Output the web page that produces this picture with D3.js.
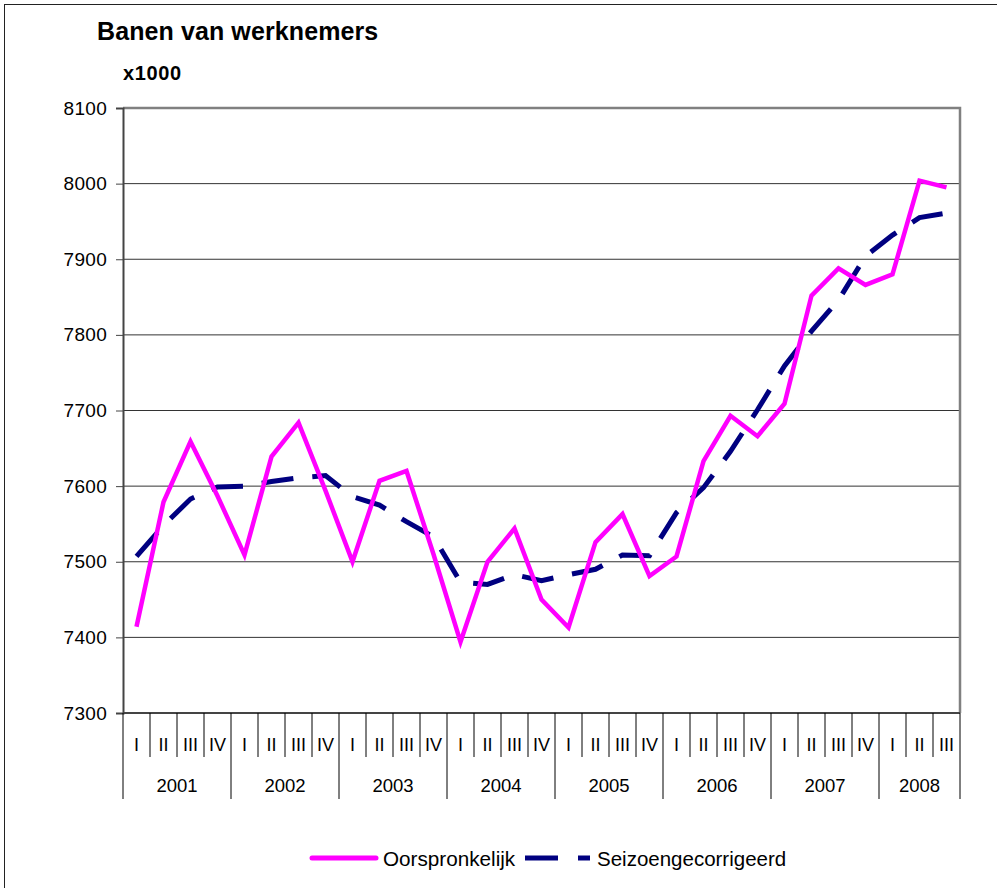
<!DOCTYPE html>
<html>
<head>
<meta charset="utf-8">
<script src="https://cdn.jsdelivr.net/npm/d3@7"></script>
<style>
  body { margin: 0; background: #fff; }
  svg { display: block; font-family: "Liberation Sans", Arial, sans-serif; }
</style>
</head>
<body>
<svg id="chart" width="997" height="888"></svg>
<script>
// data
const years = ['2001', '2002', '2003', '2004', '2005', '2006', '2007', '2008'];
const quarters = ['I', 'II', 'III', 'IV'];
const quarterCount = [4, 4, 4, 4, 4, 4, 4, 3];
const yTicks = [7300, 7400, 7500, 7600, 7700, 7800, 7900, 8000, 8100];

const oorspronkelijk = [
    7414, 7579, 7659, 7587,
    7509, 7639, 7684, 7594,
    7500, 7607, 7620, 7510,
    7394, 7500, 7544, 7450,
    7413, 7526, 7563, 7481,
    7507, 7633, 7693, 7666,
    7709, 7852, 7888, 7866,
    7880, 8004, 7995
];
const seizoen = [
    7507, 7548, 7583, 7599,
    7600, 7606, 7611, 7614,
    7586, 7575, 7553, 7533,
    7473, 7470, 7483, 7475,
    7483, 7490, 7509, 7508,
    7565, 7598, 7646, 7701,
    7759, 7805, 7846, 7904,
    7932, 7955, 7961
];

(function () {
// build category keys
const cats = [];
years.forEach((yr, i) => {
    for (let q = 0; q < quarterCount[i]; q++) cats.push({ key: yr + '-' + q, year: yr, q: quarters[q] });
});

const svg = d3.select('#chart');
const pLeft = 123, pRight = 960, pTop = 108, pBottom = 713;

const x = d3.scaleBand().domain(cats.map(d => d.key)).range([pLeft, pRight]).padding(0);
const y = d3.scaleLinear().domain([7300, 8100]).range([pBottom, pTop]);

// outer chart border
svg.append('rect')
    .attr('x', 4.5).attr('y', 4.5)
    .attr('width', 1000).attr('height', 900)
    .attr('fill', 'none').attr('stroke', '#222').attr('stroke-width', 1);

// title
svg.append('text')
    .attr('x', 97).attr('y', 40)
    .style('font-size', '25px').style('font-weight', 'bold')
    .style('letter-spacing', '0.1px')
    .text('Banen van werknemers');

svg.append('text')
    .attr('x', 123).attr('y', 80)
    .style('font-size', '20px').style('font-weight', 'bold')
    .style('letter-spacing', '0.6px')
    .text('x1000');

// gridlines
svg.append('g')
    .selectAll('line')
    .data(yTicks.slice(1, -1))
    .enter()
    .append('line')
    .attr('x1', pLeft).attr('x2', pRight)
    .attr('y1', d => y(d)).attr('y2', d => y(d))
    .attr('stroke', '#333').attr('stroke-width', 1);

// plot frame (top and right in grey)
svg.append('path')
    .attr('d', `M${pLeft},${pTop}H${pRight}V${pBottom}`)
    .attr('fill', 'none').attr('stroke', '#808080').attr('stroke-width', 2.5);

// y axis
const yAxis = d3.axisLeft(y).tickValues(yTicks).tickSize(7).tickPadding(9).tickFormat(d3.format('d'));
const gy = svg.append('g').attr('transform', `translate(${pLeft},0)`).call(yAxis);
gy.select('.domain').attr('stroke', '#444').attr('stroke-width', 2);
gy.selectAll('.tick line').attr('stroke', '#444');
gy.selectAll('.tick text')
    .style('font-size', '19px').style('letter-spacing', '0.3px')
    .style('font-family', '"Liberation Sans", Arial, sans-serif')
    .attr('fill', '#000');

// x axis baseline
svg.append('line')
    .attr('x1', pLeft).attr('x2', pRight)
    .attr('y1', pBottom).attr('y2', pBottom)
    .attr('stroke', '#444').attr('stroke-width', 2);

// quarter separators and labels
const xg = svg.append('g');
cats.forEach(c => {
    const x0 = x(c.key);
    const yearStart = c.q === 'I';
    xg.append('line')
        .attr('x1', x0).attr('x2', x0)
        .attr('y1', pBottom).attr('y2', yearStart ? 799 : 757)
        .attr('stroke', '#000').attr('stroke-width', 1);
    xg.append('text')
        .attr('x', x0 + x.bandwidth() / 2).attr('y', 751)
        .attr('text-anchor', 'middle')
        .style('font-size', '18px')
        .text(c.q);
});
xg.append('line')
    .attr('x1', pRight).attr('x2', pRight)
    .attr('y1', pBottom).attr('y2', 799)
    .attr('stroke', '#000').attr('stroke-width', 1);

// year labels
years.forEach(yr => {
    const yc = cats.filter(c => c.year === yr);
    const x0 = x(yc[0].key);
    const x1 = x(yc[yc.length - 1].key) + x.bandwidth();
    xg.append('text')
        .attr('x', (x0 + x1) / 2).attr('y', 792)
        .attr('text-anchor', 'middle')
        .style('font-size', '18.5px')
        .text(yr);
});

// lines
const line = d3.line()
    .x((d, i) => x(cats[i].key) + x.bandwidth() / 2)
    .y(d => y(d));

svg.append('path')
    .datum(seizoen)
    .attr('d', line)
    .attr('fill', 'none')
    .attr('stroke', '#000080')
    .attr('stroke-width', 5)
    .attr('stroke-dasharray', '32,19');

svg.append('path')
    .datum(oorspronkelijk)
    .attr('d', line)
    .attr('fill', 'none')
    .attr('stroke', '#ff00ff')
    .attr('stroke-width', 4.5)
    .attr('stroke-linejoin', 'miter');

// legend
const lg = svg.append('g');
lg.append('line')
    .attr('x1', 312).attr('x2', 376).attr('y1', 858).attr('y2', 858)
    .attr('stroke', '#ff00ff').attr('stroke-width', 5).attr('stroke-linecap', 'round');
lg.append('text')
    .attr('x', 383).attr('y', 866)
    .style('font-size', '20.7px')
    .text('Oorspronkelijk');
lg.append('line')
    .attr('x1', 525).attr('x2', 590).attr('y1', 858).attr('y2', 858)
    .attr('stroke', '#000080').attr('stroke-width', 5).attr('stroke-dasharray', '33,20');
lg.append('text')
    .attr('x', 597).attr('y', 866)
    .style('font-size', '20.5px')
    .text('Seizoengecorrigeerd');
})();
</script>
</body>
</html>
